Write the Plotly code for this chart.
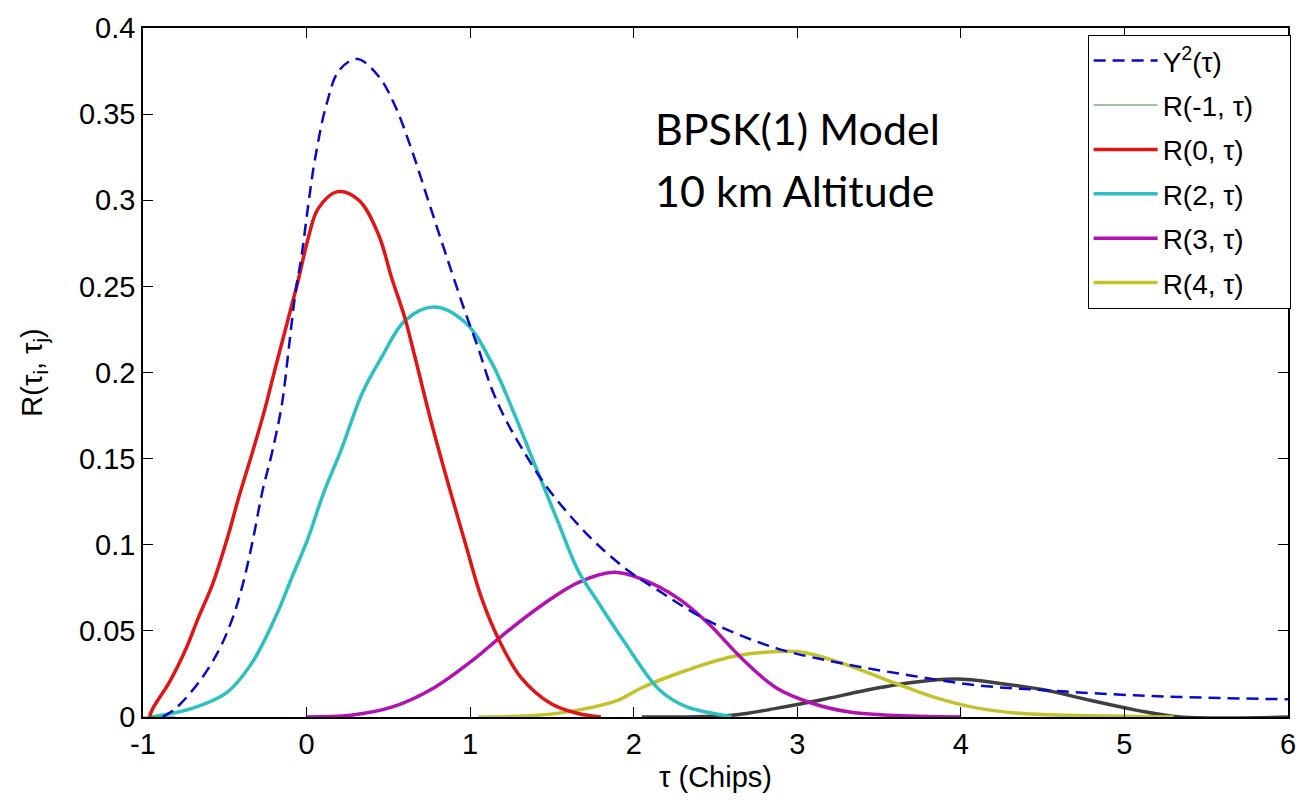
import plotly.graph_objects as go

# ---- data ----
y2_x = [-0.88, -0.8, -0.66, -0.535, -0.45, -0.39, -0.33, -0.27, -0.21, -0.15, -0.11, -0.07, -0.03, 0.01,
        0.05, 0.12, 0.2, 0.31, 0.44, 0.54, 0.64, 0.74, 0.85, 0.97, 1.05, 1.13, 1.21, 1.31, 1.45, 1.61,
        1.78, 1.98, 2.13, 2.46, 2.87, 3.28, 3.7, 4.11, 4.52, 4.93, 5.34, 6.0]
y2_y = [0.0, 0.005, 0.02, 0.039, 0.058, 0.077, 0.102, 0.131, 0.154, 0.182, 0.213, 0.245, 0.268, 0.297,
        0.323, 0.355, 0.3755, 0.382, 0.372, 0.355, 0.33, 0.301, 0.269, 0.235, 0.214, 0.191, 0.174, 0.157,
        0.136, 0.117, 0.1, 0.084, 0.0747, 0.0556, 0.04, 0.031, 0.024, 0.0183, 0.0155, 0.0132, 0.0116, 0.0103]

rm1_x = [-1.0, -0.9, -0.8]
rm1_y = [0.0, 0.0, 0.0]

r0_x = [-0.96, -0.94, -0.84, -0.74, -0.66, -0.575, -0.49, -0.41, -0.33, -0.26, -0.19, -0.11, -0.05, 0.01,
        0.07, 0.19, 0.32, 0.44, 0.52, 0.6, 0.66, 0.76, 0.87, 0.97, 1.07, 1.18, 1.31, 1.49, 1.66, 1.8]
r0_y = [0.0, 0.005, 0.02, 0.039, 0.058, 0.077, 0.102, 0.129, 0.154, 0.177, 0.203, 0.232, 0.254, 0.278,
        0.295, 0.305, 0.3, 0.28, 0.255, 0.232, 0.21, 0.172, 0.134, 0.101, 0.069, 0.044, 0.023, 0.008, 0.002, 0.0]

r2_x = [-0.95, -0.7, -0.49, -0.33, -0.19, -0.09, 0.01, 0.1, 0.215, 0.34, 0.46, 0.6, 0.78, 0.97, 1.13,
        1.27, 1.41, 1.53, 1.66, 1.78, 1.94, 2.16, 2.32, 2.49, 2.6]
r2_y = [0.0, 0.005, 0.014, 0.032, 0.058, 0.081, 0.104, 0.129, 0.156, 0.188, 0.209, 0.23, 0.238, 0.229,
        0.206, 0.176, 0.143, 0.115, 0.085, 0.067, 0.044, 0.0155, 0.006, 0.002, 0.0]

r3_x = [0.0, 0.27, 0.53, 0.78, 1.03, 1.18, 1.41, 1.66, 1.88, 2.05, 2.27, 2.46, 2.65, 2.87, 3.09, 3.31,
        3.56, 4.0]
r3_y = [0.0, 0.001, 0.006, 0.017, 0.034, 0.046, 0.063, 0.078, 0.084, 0.08, 0.069, 0.054, 0.035, 0.017,
        0.008, 0.003, 0.001, 0.0]

r4_x = [1.05, 1.41, 1.66, 1.91, 2.05, 2.32, 2.6, 2.87, 3.04, 3.28, 3.56, 3.83, 4.11, 4.38, 4.66, 5.3]
r4_y = [0.0, 0.001, 0.004, 0.01, 0.017, 0.027, 0.035, 0.038, 0.0375, 0.031, 0.021, 0.0117, 0.005, 0.002,
        0.001, 0.0]

r5_x = [2.05, 2.6, 2.87, 3.15, 3.42, 3.7, 3.97, 4.24, 4.52, 4.79, 5.07, 5.34, 6.0]
r5_y = [0.0, 0.001, 0.005, 0.01, 0.0155, 0.02, 0.022, 0.0195, 0.0155, 0.0097, 0.004, 0.0, 0.0]

x_ticks = [-1, 0, 1, 2, 3, 4, 5, 6]
x_tick_labels = ["-1", "0", "1", "2", "3", "4", "5", "6"]
y_ticks = [0, 0.05, 0.1, 0.15, 0.2, 0.25, 0.3, 0.35, 0.4]
y_tick_labels = ["0", "0.05", "0.1", "0.15", "0.2", "0.25", "0.3", "0.35", "0.4"]

FONT = "Liberation Sans, Arial, sans-serif"
FS = 29
PAD = "\u00a0" * 4  # right padding inside the legend box

fig = go.Figure()

fig.add_trace(go.Scatter(x=r5_x, y=r5_y, mode="lines", line=dict(color="#404040", width=3.5, shape="spline"),
                         showlegend=False, hoverinfo="skip"))
fig.add_trace(go.Scatter(x=r4_x, y=r4_y, mode="lines", name="R(4, τ)", legendrank=6, legendgroup="g6",
                         line=dict(color="#c2c22a", width=3.5, shape="spline")))
fig.add_trace(go.Scatter(x=r3_x, y=r3_y, mode="lines", name="R(3, τ)", legendrank=5, legendgroup="g5",
                         line=dict(color="#b312b3", width=3.5, shape="spline")))
fig.add_trace(go.Scatter(x=r2_x, y=r2_y, mode="lines", name="R(2, τ)", legendrank=4, legendgroup="g4",
                         line=dict(color="#2cc0c0", width=3.5, shape="spline")))
fig.add_trace(go.Scatter(x=r0_x, y=r0_y, mode="lines", name="R(0, τ)", legendrank=3, legendgroup="g3",
                         line=dict(color="#e01515", width=3.5, shape="spline")))
fig.add_trace(go.Scatter(x=rm1_x, y=rm1_y, mode="lines", name="R(-1, τ)" + PAD, legendrank=2, legendgroup="g2",
                         line=dict(color="#3c8c3c", width=1.2)))
fig.add_trace(go.Scatter(x=y2_x, y=y2_y, mode="lines", name="Y<sup>2</sup>(τ)", legendrank=1, legendgroup="g1",
                         line=dict(color="#0a0ac8", width=2.5, dash="12px,7px", shape="spline")))

fig.add_annotation(x=0.445, y=0.854, xref="paper", yref="paper", text="BPSK(1) Model",
                   showarrow=False, xanchor="left", yanchor="middle",
                   font=dict(family="Lato, Open Sans, sans-serif", size=43, color="black"))
fig.add_annotation(x=0.445, y=0.764, xref="paper", yref="paper", text="10 km Altitude",
                   showarrow=False, xanchor="left", yanchor="middle",
                   font=dict(family="Lato, Open Sans, sans-serif", size=43, color="black"))

axis_common = dict(showgrid=False, zeroline=False, showline=True, linecolor="black", linewidth=1.5,
                   mirror="ticks", ticks="inside", ticklen=10, tickcolor="black", tickwidth=1,
                   tickfont=dict(family=FONT, size=FS, color="black"))

fig.update_xaxes(range=[-1, 6], tickvals=x_ticks, ticktext=x_tick_labels,
                 title=dict(text="τ (Chips)", font=dict(family=FONT, size=FS, color="black"), standoff=8),
                 **axis_common)
fig.update_yaxes(range=[0, 0.4], tickvals=y_ticks, ticktext=y_tick_labels,
                 title=dict(text="R(τ<sub>i</sub>, τ<sub>j</sub>)", font=dict(family=FONT, size=FS, color="black"),
                            standoff=28),
                 **axis_common)

fig.update_layout(
    width=1308, height=803,
    margin=dict(l=143, r=13, t=19, b=86),
    paper_bgcolor="white", plot_bgcolor="white",
    legend=dict(x=0.825, y=0.99, xanchor="left", yanchor="top", bgcolor="white",
                bordercolor="black", borderwidth=1, traceorder="grouped", tracegroupgap=5,
                itemwidth=64,
                font=dict(family=FONT, size=28, color="black")),
)

fig.write_html("out.html")
